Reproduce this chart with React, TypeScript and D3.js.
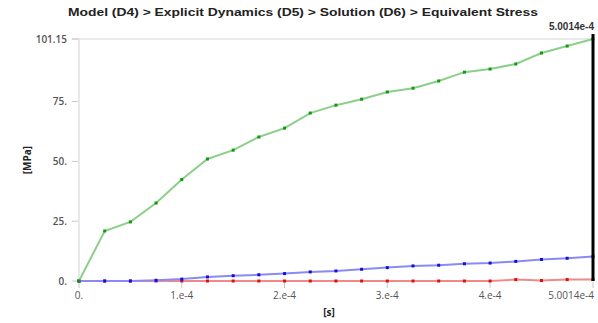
import React from "react";
import * as d3 from "d3";

// Time steps [s]
const times: number[] = [
  0, 2.5e-5, 5e-5, 7.5e-5, 1e-4, 1.25e-4, 1.5e-4, 1.75e-4, 2e-4, 2.25e-4,
  2.5e-4, 2.75e-4, 3e-4, 3.25e-4, 3.5e-4, 3.75e-4, 4e-4, 4.25e-4, 4.5e-4,
  4.75e-4, 5.0014e-4,
];

// Equivalent stress [MPa]
const maxStress: number[] = [
  0, 20.9, 24.7, 32.6, 42.4, 51, 54.7, 60.2, 63.9, 70.2, 73.5, 76, 79,
  80.6, 83.6, 87.3, 88.6, 90.7, 95.3, 98.2, 101.15,
];
const avgStress: number[] = [
  0, 0, 0, 0.3, 0.8, 1.7, 2.2, 2.6, 3.1, 3.8, 4.2, 4.9, 5.6, 6.3, 6.6,
  7.2, 7.5, 8.2, 9.0, 9.5, 10.2,
];
const minStress: number[] = [
  0, 0, 0, 0, 0, 0, 0, 0, 0, 0, 0, 0, 0, 0, 0, 0, 0, 0.6, 0.2, 0.6, 0.6,
];

const xTicks: number[] = [0, 1e-4, 2e-4, 3e-4, 4e-4, 5.0014e-4];
const xTickLabels: string[] = ["0.", "1.e-4", "2.e-4", "3.e-4", "4.e-4", "5.0014e-4"];
const yTicks: number[] = [0, 25, 50, 75, 101.15];
const yTickLabels: string[] = ["0.", "25.", "50.", "75.", "101.15"];

const title = "Model (D4) > Explicit Dynamics (D5) > Solution (D6) > Equivalent Stress";
const cursorTime = 5.0014e-4;
const cursorLabel = "5.0014e-4";

const W = 598;
const H = 323;
const left = 79;
const right = 593;
const top = 39;
const bottom = 281;

export default function App() {
  const x = d3.scaleLinear().domain([0, 5.0014e-4]).range([left, right]);
  const y = d3.scaleLinear().domain([0, 101.15]).range([bottom, top]);

  const series = [
    { values: minStress, line: "#f08a8a", marker: "#dd1010" },
    { values: avgStress, line: "#8a8af5", marker: "#1010dd" },
    { values: maxStress, line: "#8ccf8a", marker: "#119911" },
  ];

  const lineGen = (vals: number[]) =>
    d3
      .line<number>()
      .x((_, i) => x(times[i]))
      .y((v) => y(v))(vals) as string;

  const tickFont = "'Open Sans', 'DejaVu Sans', sans-serif";

  return (
    <svg width={W} height={H} style={{ position: "absolute", left: 0, top: 0, background: "#fff" }}>
      <text
        x={68}
        y={16}
        textLength={470}
        lengthAdjust="spacingAndGlyphs"
        fontFamily="'Liberation Sans', Arial, sans-serif"
        fontWeight="bold"
        fontSize={11.5}
        fill="#222"
      >
        {title}
      </text>

      {/* top grid line and left axis */}
      <line x1={72} x2={right} y1={y(101.15)} y2={y(101.15)} stroke="#d4d4d4" strokeWidth={1} />
      <line x1={left} x2={left} y1={top} y2={bottom} stroke="#e0e0e0" strokeWidth={1.5} />

      {/* y ticks */}
      {yTicks.map((t, i) => (
        <g key={"y" + i}>
          <line x1={72} x2={78} y1={y(t)} y2={y(t)} stroke="#c8c8c8" />
          <text
            x={67}
            y={y(t) + 3.5}
            textAnchor="end"
            fontFamily={tickFont}
            fontWeight={600}
            fontSize={10}
            fill="#555"
          >
            {yTickLabels[i]}
          </text>
        </g>
      ))}

      {/* x ticks */}
      {xTicks.map((t, i) => (
        <g key={"x" + i}>
          <line x1={x(t)} x2={x(t)} y1={bottom + 1} y2={bottom + 7} stroke="#c8c8c8" />
          <text
            x={i === xTicks.length - 1 ? right + 1 : x(t)}
            y={bottom + 18}
            textAnchor={i === xTicks.length - 1 ? "end" : "middle"}
            fontFamily={tickFont}
            fontSize={10}
            fill="#555"
          >
            {xTickLabels[i]}
          </text>
        </g>
      ))}

      {/* axis titles */}
      <text
        x={329}
        y={316}
        textAnchor="middle"
        fontFamily={tickFont}
        fontWeight="bold"
        fontSize={10}
        fill="#222"
      >
        [s]
      </text>
      <text
        transform={`translate(31,160) rotate(-90)`}
        textAnchor="middle"
        fontFamily={tickFont}
        fontWeight="bold"
        fontSize={10}
        fill="#222"
      >
        [MPa]
      </text>

      {/* series */}
      {series.map((s, si) => (
        <g key={"s" + si}>
          <path d={lineGen(s.values)} fill="none" stroke={s.line} strokeWidth={2} />
          {s.values.map((v, i) => (
            <rect
              key={i}
              x={x(times[i]) - 1.5}
              y={y(v) - 1.5}
              width={3}
              height={3}
              fill={s.marker}
            />
          ))}
        </g>
      ))}

      {/* time cursor */}
      <line
        x1={x(cursorTime)}
        x2={x(cursorTime)}
        y1={top - 5}
        y2={bottom}
        stroke="#000"
        strokeWidth={3}
      />
      <text
        x={right + 1}
        y={30}
        textAnchor="end"
        fontFamily="'Liberation Sans', Arial, sans-serif"
        fontWeight="bold"
        fontSize={10}
        fill="#333"
      >
        {cursorLabel}
      </text>
    </svg>
  );
}
